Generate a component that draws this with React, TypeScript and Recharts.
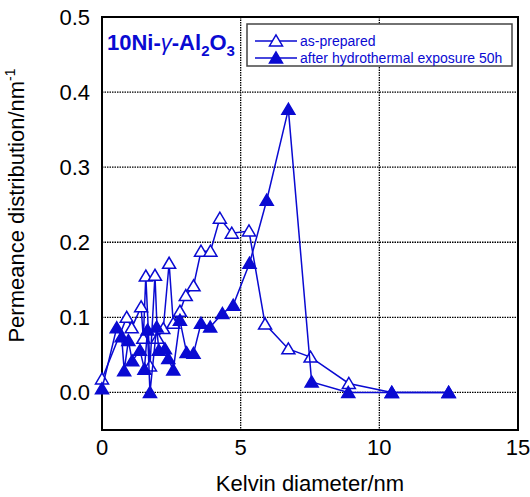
// App.tsx - Kelvin diameter permeance distribution (10Ni-γ-Al2O3)
import React from 'react'
import { ScatterChart, Scatter, XAxis, YAxis, CartesianGrid, ReferenceArea } from 'recharts'

// as-prepared (open triangles)
const asPreparedX = [0, 0.89, 1.07, 1.41, 1.49, 1.58, 1.73, 1.91, 2.0, 2.21, 2.42, 2.57, 2.81, 3.02, 3.3, 3.57, 3.91, 4.25, 4.68, 5.3, 5.88, 6.72, 7.52, 8.9, 10.45, 12.5]
const asPreparedY = [0.018, 0.1, 0.086, 0.114, 0.072, 0.155, 0.035, 0.156, 0.072, 0.085, 0.172, 0.092, 0.108, 0.129, 0.142, 0.188, 0.188, 0.232, 0.212, 0.215, 0.091, 0.058, 0.047, 0.012, 0, 0]

// after hydrothermal exposure 50h (filled triangles)
const hydroX = [0, 0.53, 0.71, 0.8, 0.95, 1.09, 1.37, 1.53, 1.64, 1.73, 1.97, 2.05, 2.27, 2.39, 2.57, 2.81, 3.05, 3.3, 3.57, 3.9, 4.34, 4.73, 5.32, 5.94, 6.72, 7.56, 8.88, 10.45, 12.5]
const hydroY = [0.005, 0.086, 0.074, 0.029, 0.069, 0.042, 0.056, 0.031, 0.083, 0, 0.087, 0.056, 0.058, 0.045, 0.03, 0.096, 0.053, 0.052, 0.092, 0.087, 0.105, 0.116, 0.172, 0.256, 0.377, 0.014, 0, 0, 0]

const xTicks = [0, 5, 10, 15]
const yTicks = [0, 0.1, 0.2, 0.3, 0.4, 0.5]
const seriesNames = ['as-prepared', 'after hydrothermal exposure 50h']

const BLUE = '#0a0ad2'
const FONT = '"Liberation Sans", Arial, sans-serif'

const Triangle = ({ cx, cy, filled }: any) => {
  if (cx == null || cy == null) return null
  const w = 6.5
  const h = 11
  const pts = `${cx},${cy - h * 0.55} ${cx - w},${cy + h * 0.45} ${cx + w},${cy + h * 0.45}`
  return <polygon points={pts} fill={filled ? BLUE : '#fff'} stroke={BLUE} strokeWidth={1.5} />
}

const YLabel = (props: any) => {
  const vb = props.viewBox || { x: 0, y: 17, width: 102, height: 413 }
  const x = vb.x + 24
  const y = vb.y + vb.height / 2 - 18
  return (
    <text x={x} y={y} transform={`rotate(-90, ${x}, ${y})`} textAnchor="middle"
      fontSize={22} fontFamily={FONT} fill="#000">
      Permeance distribution/nm
      <tspan fontSize={14} dy={-9}>-1</tspan>
    </text>
  )
}

export default function App() {
  const asPrepared = asPreparedX.map((x, i) => ({ x, y: asPreparedY[i] }))
  const hydro = hydroX.map((x, i) => ({ x, y: hydroY[i] }))

  return (
    <div style={{ position: 'absolute', left: 0, top: 0, width: 530, height: 497, background: '#fff' }}>
      <ScatterChart width={530} height={497} margin={{ top: 17, right: 12, bottom: 0, left: 0 }}>
        <CartesianGrid stroke="#000" strokeDasharray="1.5 1" strokeWidth={1.3} />
        <XAxis
          type="number" dataKey="x" domain={[0, 15]} ticks={xTicks} height={67}
          tickLine={false} tickSize={7} tickMargin={2}
          axisLine={{ stroke: '#000', strokeWidth: 2 }}
          tick={{ fill: '#000', fontSize: 22, fontFamily: FONT }}
          label={{ value: 'Kelvin diameter/nm', position: 'insideBottom', offset: 6, fontSize: 22, fill: '#000', fontFamily: FONT }}
        />
        <YAxis
          type="number" dataKey="y" domain={[-0.05, 0.5]} ticks={yTicks} width={102}
          tickLine={false} tickSize={10} tickMargin={2}
          axisLine={{ stroke: '#000', strokeWidth: 2 }}
          tick={{ fill: '#000', fontSize: 22, fontFamily: FONT }}
          tickFormatter={(v: number) => v.toFixed(1)}
          label={<YLabel />}
        />
        <ReferenceArea x1={0} x2={15} y1={-0.05} y2={0.5} fill="none" stroke="#000" strokeWidth={2} />
        <Scatter name={seriesNames[0]} data={asPrepared} isAnimationActive={false}
          line={{ stroke: BLUE, strokeWidth: 1.5 }} lineType="joint"
          shape={(p: any) => <Triangle {...p} filled={false} />} />
        <Scatter name={seriesNames[1]} data={hydro} isAnimationActive={false}
          line={{ stroke: BLUE, strokeWidth: 1.5 }} lineType="joint"
          shape={(p: any) => <Triangle {...p} filled />} />
      </ScatterChart>

      {/* title and legend box */}
      <svg width={530} height={497} style={{ position: 'absolute', left: 0, top: 0, pointerEvents: 'none' }}>
        <text x={107} y={50} fontSize={22} fontWeight="bold" fontFamily={FONT} fill={BLUE}>
          10Ni-<tspan fontStyle="italic" fontWeight="normal">γ</tspan>-Al
          <tspan fontSize={15} dy={6}>2</tspan>
          <tspan dy={-6}>O</tspan>
          <tspan fontSize={15} dy={6}>3</tspan>
        </text>
        <rect x={247} y={24} width={265} height={42} fill="#fff" stroke="#444" strokeWidth={1.5} />
        {seriesNames.map((name, i) => {
          const y = 41 + i * 17
          return (
            <g key={name}>
              <line x1={255} x2={297} y1={y} y2={y} stroke={BLUE} strokeWidth={1.5} />
              <Triangle cx={276} cy={y} filled={i === 1} />
              <text x={300} y={y + 5} fontSize={14} fontFamily={FONT} fill={BLUE}>{name}</text>
            </g>
          )
        })}
      </svg>
    </div>
  )
}
